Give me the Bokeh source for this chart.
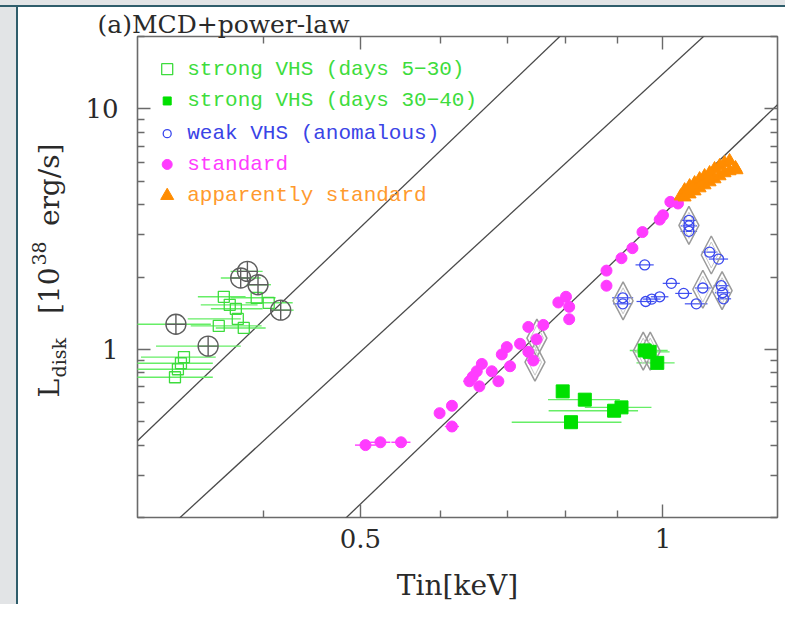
import math
from bokeh.plotting import figure
from bokeh.layouts import row, column
from bokeh.models import FixedTicker, LogAxis, Range1d, Div
from bokeh.embed import file_html
from bokeh.resources import INLINE
from bokeh.core.properties import value

# ---------------- axes ----------------
X_RANGE = (0.3, 1.3)
Y_RANGE = (0.2, 20.0)
x_major_ticks = [0.5, 1.0]
x_minor_ticks = [0.4, 0.6, 0.7, 0.8, 0.9]
x_tick_labels = {0.5: "0.5", 1.0: "1"}
y_major_ticks = [1.0, 10.0]
y_minor_ticks = [0.2, 0.3, 0.4, 0.5, 0.6, 0.7, 0.8, 0.9, 2, 3, 4, 5, 6, 7, 8, 9, 20]
y_tick_labels = {1.0: "1", 10.0: "10"}

# ---------------- model lines  L = norm * Tin**index ----------------
line_norm = [51.5, 14.0, 3.64]
line_index = [4.0, 3.84, 4.0]

# ---------------- strong VHS (days 5-30): open squares ----------------
sv1_T = [0.3656, 0.3706, 0.3758, 0.3614, 0.3775, 0.3827, 0.3942, 0.4052, 0.3337, 0.3314, 0.3291, 0.3269]
sv1_L = [1.655, 1.532, 1.475, 1.252, 1.339, 1.228, 1.639, 1.562, 0.929, 0.876, 0.827, 0.766]
sv1_lo = [0.3445, 0.3468, 0.3549, 0.3389, 0.3366, 0.3589, 0.3713, 0.3843, 0.3024, 0.29, 0.29, 0.285]
sv1_hi = [0.3843, 0.3950, 0.3996, 0.3987, 0.3801, 0.4024, 0.4117, 0.4281, 0.3589, 0.3565, 0.3549, 0.3565]

# circled points
cc_T = [0.3276, 0.3527, 0.3800, 0.3859, 0.3954, 0.4165]
cc_L = [1.272, 1.032, 1.982, 2.111, 1.858, 1.456]
cc_lo = [0.29, 0.3130, 0.3631, 0.3713, 0.3852, 0.4071]
cc_hi = [0.3549, 0.3801, 0.3978, 0.3996, 0.4073, 0.4290]

# ---------------- strong VHS (days 30-40): filled squares ----------------
sv2_T = [0.7947, 0.836, 0.894, 0.9093, 0.81, 0.959, 0.970, 0.987]
sv2_L = [0.669, 0.618, 0.556, 0.574, 0.498, 0.990, 0.977, 0.879]
sv2_lo = [0.7947, 0.7684, 0.7695, 0.836, 0.7071, 0.9267, 0.9375, 0.9410]
sv2_hi = [0.7947, 0.9059, 0.9445, 0.9739, 0.9093, 1.0108, 1.0153, 1.027]

# ---------------- weak VHS (anomalous): open circles ----------------
wv_T = [0.9590, 0.912, 0.912, 0.9612, 0.9745, 0.9925, 1.0194, 1.0485, 1.0793, 1.0956,
        1.0612, 1.0612, 1.0612, 1.1127, 1.1358, 1.1429, 1.1463, 1.1489]
wv_L = [2.246, 1.639, 1.547, 1.582, 1.619, 1.655, 1.882, 1.709, 1.547, 1.800,
        3.442, 3.265, 3.096, 2.536, 2.375, 1.840, 1.720, 1.623]
wv_dT = [0.020, 0.022, 0.020, 0.020, 0.020, 0.020, 0.020, 0.020, 0.028, 0.020,
         0.020, 0.020, 0.020, 0.020, 0.025, 0.020, 0.020, 0.020]

# ---------------- standard: magenta dots ----------------
std_T = [0.5058, 0.5234, 0.5487, 0.5994, 0.6166, 0.6166, 0.6418, 0.6467, 0.6527, 0.6566,
         0.6603, 0.6755, 0.6858, 0.6912, 0.6992, 0.7044, 0.7207, 0.7345, 0.7345, 0.7430,
         0.7486, 0.7602, 0.7868, 0.8007, 0.8066, 0.8066, 0.8786, 0.8786, 0.9093, 0.9324,
         0.9541, 0.9925, 1.0000, 1.0170, 1.0350]
std_L = [0.400, 0.411, 0.411, 0.543, 0.583, 0.478, 0.737, 0.770, 0.811, 0.702,
         0.870, 0.811, 0.737, 0.953, 1.022, 0.851, 1.055, 1.240, 0.977, 0.899,
         1.101, 1.264, 1.567, 1.655, 1.503, 1.335, 2.126, 1.840, 2.394, 2.636,
         3.075, 3.465, 3.613, 4.106, 4.043]
std_dT = [0.012, 0.012, 0.012, 0.006, 0.006, 0.010, 0.009, 0.006, 0.006, 0.006,
          0.006, 0.006, 0.006, 0.006, 0.006, 0.006, 0.006, 0.006, 0.006, 0.011,
          0.006, 0.006, 0.006, 0.006, 0.006, 0.006, 0.006, 0.006, 0.006, 0.006,
          0.006, 0.006, 0.006, 0.006, 0.006]

# ---------------- apparently standard: orange triangles ----------------
ast_T = [1.0413, 1.0508, 1.0508, 1.0629, 1.0629, 1.0751, 1.0751, 1.0875, 1.0875, 1.1000,
         1.1000, 1.1127, 1.1127, 1.1254, 1.1254, 1.1384, 1.1384, 1.1515, 1.1515, 1.1648,
         1.1648, 1.1808, 1.1835]
ast_L = [4.337, 4.595, 4.295, 4.776, 4.421, 4.916, 4.551, 5.109, 4.686, 5.259,
         4.823, 5.414, 4.964, 5.626, 5.109, 5.790, 5.259, 5.960, 5.414, 6.076,
         5.518, 5.681, 5.572]

# ---------------- grey diamonds (marked spectra) ----------------
dia_T = [0.9126, 1.0612, 1.1170, 1.0956, 1.1450, 0.7491, 0.7458, 0.9557, 0.9712]
dia_L = [1.592, 3.281, 2.469, 1.779, 1.754, 1.115, 0.885, 0.984, 0.984]

# ---------------- legend ----------------
legend_labels = ["strong VHS (days 5\u221230)", "strong VHS (days 30\u221240)",
                 "weak VHS (anomalous)", "standard", "apparently standard"]
legend_colors = ["#3ddc3d", "#3ddc3d", "#3a44e6", "#ff3cff", "#ff9a2e"]

title_text = "(a)MCD+power-law"
x_label = "Tin[keV]"
# y label pieces: L_disk [10^38 erg/s]
ylab_main = ["L", "[10", "erg/s]"]
ylab_sub = "disk"
ylab_sup = "38"

# ======================================================================
W_TOTAL, H_TOTAL = 785, 604
GREY_H, TEAL_H = 5, 2
GREY_W, TEAL_W, YLAB_W = 16, 2, 57
BORDER_TOP, BORDER_BOTTOM = 29, 87
FRAME_W, FRAME_H = 640, 481
SERIF = "DejaVu Serif"
TXT = "#2a2a2a"
GREY_BG = "#e2e4e6"
TEAL = "#2f5d6b"


def block(width, height, color):
    return Div(text="", width=width, height=height,
               styles={"background-color": color, "margin": "0", "padding": "0"})


body_h = H_TOTAL - GREY_H - TEAL_H
top_grey = block(W_TOTAL, GREY_H, GREY_BG)
top_teal = block(W_TOTAL, TEAL_H, TEAL)
left_grey = block(GREY_W, body_h, GREY_BG)
left_teal = block(TEAL_W, body_h, TEAL)

# panel holding the y-axis label (its frame lines up with the main frame)
ylab = figure(width=YLAB_W, height=body_h, x_range=Range1d(GREY_W + TEAL_W, GREY_W + TEAL_W + YLAB_W),
              y_range=Range1d(0, FRAME_H), output_backend="svg", toolbar_location=None,
              x_axis_location=None, y_axis_location=None,
              min_border_left=0, min_border_right=0,
              min_border_top=BORDER_TOP, min_border_bottom=BORDER_BOTTOM)
ylab.grid.visible = False
ylab.outline_line_color = None
ylab.background_fill_color = "white"
ylab.border_fill_color = "white"
A = math.pi / 2
FRAME_BOTTOM_PAGE = GREY_H + TEAL_H + BORDER_TOP + FRAME_H


def ylab_text(txt, x, page_y, size, align):
    ylab.text(x=[x], y=[FRAME_BOTTOM_PAGE - page_y], text=[txt], angle=A, text_font=value(SERIF),
              text_font_size=size, text_color=TXT, text_align=align, text_baseline="alphabetic")


ylab_text(ylab_main[0], 49, 397, "28px", "left")
ylab_text(ylab_sub, 58, 377, "19px", "left")
ylab_text(ylab_main[1], 49, 267, "28px", "right")
ylab_text(ylab_sup, 38, 265, "19px", "left")
ylab_text(ylab_main[2], 49, 143, "28px", "right")

# main plot
main_w = W_TOTAL - GREY_W - TEAL_W - YLAB_W
left_b = 137 - (GREY_W + TEAL_W + YLAB_W)
p = figure(width=main_w, height=body_h, x_axis_type="log", y_axis_type="log",
           x_range=Range1d(*X_RANGE), y_range=Range1d(*Y_RANGE),
           output_backend="svg", toolbar_location=None,
           min_border_left=left_b, min_border_right=main_w - left_b - FRAME_W,
           min_border_top=BORDER_TOP, min_border_bottom=BORDER_BOTTOM)
p.grid.visible = False
p.outline_line_color = "#6a6a6a"
p.outline_line_width = 1.6
p.background_fill_color = "white"
p.border_fill_color = "white"
p.title.text = title_text
p.title.text_font = SERIF
p.title.text_font_size = "25px"
p.title.text_font_style = "normal"
p.title.text_color = TXT
p.title.align = "left"
p.title.offset = -40
p.title.standoff = -5


def style_axis(ax, ticks, minors, labels, show):
    ax.ticker = FixedTicker(ticks=ticks, minor_ticks=minors)
    ax.axis_line_color = None
    ax.major_tick_in = 13
    ax.major_tick_out = 0
    ax.minor_tick_in = 7
    ax.minor_tick_out = 0
    ax.major_tick_line_color = "#6a6a6a"
    ax.minor_tick_line_color = "#6a6a6a"
    ax.major_tick_line_width = 1.4
    ax.minor_tick_line_width = 1.4
    if show:
        ax.major_label_overrides = labels
        ax.major_label_text_font = SERIF
        ax.major_label_text_font_size = "26px"
        ax.major_label_text_color = TXT
    else:
        ax.major_label_overrides = {k: "" for k in labels}
        ax.major_label_text_font_size = "1px"
        ax.major_label_standoff = 0


style_axis(p.xaxis[0], x_major_ticks, x_minor_ticks, x_tick_labels, True)
p.xaxis[0].major_label_standoff = 11
p.xaxis[0].axis_label = x_label
p.xaxis[0].axis_label_text_font = SERIF
p.xaxis[0].axis_label_text_font_size = "28px"
p.xaxis[0].axis_label_text_font_style = "normal"
p.xaxis[0].axis_label_text_color = TXT
p.xaxis[0].axis_label_standoff = 18
style_axis(p.yaxis[0], y_major_ticks, y_minor_ticks, y_tick_labels, True)
p.yaxis[0].major_label_standoff = 19

top = LogAxis()
style_axis(top, x_major_ticks, x_minor_ticks, x_tick_labels, False)
p.add_layout(top, "above")
right = LogAxis()
style_axis(right, y_major_ticks, y_minor_ticks, y_tick_labels, False)
p.add_layout(right, "right")

# model lines
for norm, idx in zip(line_norm, line_index):
    xs = list(X_RANGE)
    p.line(x=xs, y=[norm * t ** idx for t in xs], line_color="#4a4a4a", line_width=1.3)

# error bars
p.segment(x0=sv1_lo, y0=sv1_L, x1=sv1_hi, y1=sv1_L, line_color="#66ee66", line_width=1.4)
p.segment(x0=cc_lo, y0=cc_L, x1=cc_hi, y1=cc_L, line_color="#66ee66", line_width=1.4)
p.segment(x0=sv2_lo, y0=sv2_L, x1=sv2_hi, y1=sv2_L, line_color="#66ee66", line_width=1.4)
p.segment(x0=[t - d for t, d in zip(wv_T, wv_dT)], y0=wv_L,
          x1=[t + d for t, d in zip(wv_T, wv_dT)], y1=wv_L, line_color="#4050f0", line_width=1.2)
p.segment(x0=[t - d for t, d in zip(std_T, std_dT)], y0=std_L,
          x1=[t + d for t, d in zip(std_T, std_dT)], y1=std_L, line_color="#ff3cff", line_width=1.4)

# grey diamonds (tall), fixed pixel size on log axes
ppd_x = FRAME_W / math.log10(X_RANGE[1] / X_RANGE[0])
ppd_y = FRAME_H / math.log10(Y_RANGE[1] / Y_RANGE[0])
kx = 10 ** (10 / ppd_x)
ky = 10 ** (19 / ppd_y)
p.patches(xs=[[t, t * kx, t, t / kx] for t in dia_T],
          ys=[[l * ky, l, l / ky, l] for l in dia_L],
          fill_color=None, line_color="#9a9a9a", line_width=1.5)
kx2 = 10 ** (6.5 / ppd_x)
ky2 = 10 ** (13 / ppd_y)
p.patches(xs=[[t, t * kx2, t, t / kx2] for t in dia_T],
          ys=[[l * ky2, l, l / ky2, l] for l in dia_L],
          fill_color=None, line_color="#c8c8c8", line_width=1.0)

# markers
p.scatter(sv1_T, sv1_L, marker="square", size=11, fill_color=None, line_color="#3ddc3d", line_width=1.3)
p.scatter(cc_T, cc_L, marker="circle_cross", size=20, fill_color=None, line_color="#5e5e5e", line_width=1.4)
p.scatter(sv2_T, sv2_L, marker="square", size=13, fill_color="#00e000", line_color="#00e000")
p.scatter(std_T, std_L, marker="circle", size=11, fill_color="#ff3cff", line_color="#ff3cff")
p.scatter(wv_T, wv_L, marker="circle", size=10, fill_color=None, line_color="#3a48ee", line_width=1.3)
p.scatter(ast_T, ast_L, marker="triangle", size=13, fill_color="#ff8c00", line_color="#ff8c00")


# legend (placed by fractions of the frame)
def fx(f):
    return X_RANGE[0] * (X_RANGE[1] / X_RANGE[0]) ** f


def fy(f):
    return Y_RANGE[0] * (Y_RANGE[1] / Y_RANGE[0]) ** f


row_f = [0.932, 0.866, 0.798, 0.734, 0.669]
mx = fx(0.0464)
p.scatter([mx], [fy(row_f[0])], marker="square", size=11, fill_color=None, line_color=legend_colors[0], line_width=1.3)
p.scatter([mx], [fy(row_f[1])], marker="square", size=8, fill_color="#00e000", line_color="#00e000")
p.scatter([mx], [fy(row_f[2])], marker="circle", size=8, fill_color=None, line_color="#3a48ee", line_width=1.3)
p.scatter([mx], [fy(row_f[3])], marker="circle", size=10, fill_color="#ff3cff", line_color="#ff3cff")
p.scatter([mx], [fy(row_f[4])], marker="triangle", size=13, fill_color="#ff8c00", line_color="#ff8c00")
p.text(x=[fx(0.0777)] * 5, y=[fy(f) for f in row_f], text=legend_labels, text_color=legend_colors,
       text_font=value("Liberation Mono"), text_font_size="21px", text_baseline="middle", text_align="left")

layout = column(top_grey, top_teal, row(left_grey, left_teal, ylab, p, spacing=0), spacing=0)
open("out.html", "w").write(file_html(layout, INLINE))
